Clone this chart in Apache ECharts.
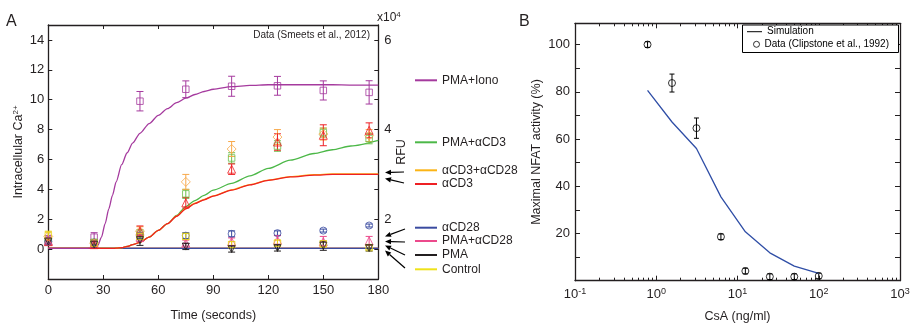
<!DOCTYPE html>
<html><head><meta charset="utf-8">
<script src="https://cdn.jsdelivr.net/npm/echarts@6/dist/echarts.min.js"></script>
<style>html,body{margin:0;padding:0;background:#fff}#c{width:910px;height:323px}</style>
</head><body><div id="c"></div>
<script>
// ================= Panel A data =================
const timeSim = [0, 10, 20, 25, 27, 29, 31, 33, 35, 37, 40, 43, 46, 50, 55, 60, 65, 70, 75, 80, 85, 90, 100, 110, 120, 132, 145, 155, 165, 180];
const simPMAIono = [0.05, 0.05, 0.05, 0.08, 0.25, 0.8, 1.7, 2.7, 3.6, 4.5, 5.65, 6.45, 7.1, 7.75, 8.4, 8.95, 9.4, 9.8, 10.1, 10.35, 10.55, 10.7, 10.87, 10.96, 11.0, 11.0, 11.0, 11.0, 10.98, 10.97];
const simPMAaCD3 = [0.05, 0.05, 0.05, 0.05, 0.05, 0.05, 0.05, 0.05, 0.05, 0.06, 0.1, 0.18, 0.3, 0.45, 0.8, 1.25, 1.7, 2.25, 2.85, 3.25, 3.6, 3.95, 4.4, 4.9, 5.4, 5.95, 6.4, 6.65, 6.9, 7.28];
const simaCD3aCD28 = [0.05, 0.05, 0.05, 0.05, 0.05, 0.05, 0.05, 0.05, 0.05, 0.06, 0.1, 0.18, 0.3, 0.45, 0.8, 1.25, 1.7, 2.22, 2.72, 3.07, 3.32, 3.57, 3.97, 4.32, 4.62, 4.85, 4.98, 5.03, 5.03, 5.03];
const simaCD3 = [0.05, 0.05, 0.05, 0.05, 0.05, 0.05, 0.05, 0.05, 0.05, 0.06, 0.1, 0.18, 0.3, 0.45, 0.8, 1.25, 1.7, 2.2, 2.7, 3.05, 3.3, 3.55, 3.95, 4.3, 4.6, 4.83, 4.95, 5.0, 5.0, 5.0];
const timeFlat = [0, 180];
const simaCD28 = [0.05, 0.05];
const simPMAaCD28 = [0.05, 0.05];
const simPMA = [0.05, 0.05];
const simControl = [0.05, 0.05];

const timeData = [0, 25, 50, 75, 100, 125, 150, 175];
const dataPMAIono = [0.6, 0.8, 9.9, 10.7, 10.9, 10.93, 10.62, 10.49];
const errPMAIono = [0.3, 0.3, 0.65, 0.56, 0.67, 0.63, 0.64, 0.78];
const dataPMAaCD3 = [0.5, 0.45, 1.0, 3.7, 6.1, 6.9, 7.8, 7.4];
const errPMAaCD3 = [0.25, 0.2, 0.3, 0.3, 0.35, 0.35, 0.3, 0.35];
const dataaCD3aCD28 = [0.85, 0.4, 1.2, 4.5, 6.7, 7.5, 7.7, 7.6];
const erraCD3aCD28 = [0.3, 0.2, 0.3, 0.5, 0.5, 0.5, 0.4, 0.4];
const dataaCD3 = [0.5, 0.3, 1.2, 3.1, 5.35, 7.17, 7.62, 7.95];
const erraCD3 = [0.25, 0.2, 0.35, 0.35, 0.35, 0.55, 0.7, 0.5];
const dataaCD28 = [0.5, 0.45, 0.9, 0.9, 1.02, 1.07, 1.24, 1.58];
const erraCD28 = [0.2, 0.15, 0.2, 0.2, 0.2, 0.15, 0.1, 0.1];
const dataPMAaCD28 = [0.55, 0.4, 0.8, 0.4, 0.5, 0.6, 0.5, 0.55];
const errPMAaCD28 = [0.2, 0.2, 0.3, 0.2, 0.25, 0.3, 0.35, 0.3];
const dataPMA = [0.5, 0.3, 0.6, 0.17, 0.0, 0.07, 0.22, 0.07];
const errPMA = [0.2, 0.2, 0.35, 0.2, 0.2, 0.2, 0.3, 0.2];
const dataControl = [0.9, 0.4, 0.85, 0.85, 0.3, 0.4, 0.35, 0.1];
const errControl = [0.3, 0.2, 0.2, 0.2, 0.2, 0.2, 0.2, 0.15];

const legendNamesA = ['PMA+Iono', 'PMA+\u03b1CD3', '\u03b1CD3+\u03b1CD28', '\u03b1CD3', '\u03b1CD28', 'PMA+\u03b1CD28', 'PMA', 'Control'];

// ================= Panel B data =================
const csaDose = [0.78125, 1.5625, 3.125, 6.25, 12.5, 25, 50, 100];
const simNFAT = [80.6, 67.2, 56.0, 35.5, 20.7, 11.8, 6.2, 3.1];
const dataNFAT = [100, 83.7, 64.6, 18.6, 4.1, 1.7, 1.7, 2.0];
const errNFAT = [1.2, 3.8, 4.3, 1.2, 1.2, 1.2, 1.2, 1.2];

// ================= Build =================
const FONT = '"Liberation Sans", Arial, sans-serif';
const AX = '#231f20';
const C = {
  iono: '#a53a9e', pmacd3: '#4cb848', cd3cd28: '#fbb416', cd3cd28m: '#f8a94a',
  cd3: '#ee2024', cd28: '#3a4ba0', pmacd28: '#ec4a8c', pma: '#231f20', ctrl: '#efe21a'
};
const pairs = (xs, ys) => xs.map((x, i) => [x, ys[i]]);

function lineS(name, xs, ys, color, xi, yi, w) {
  return { type: 'line', name, xAxisIndex: xi, yAxisIndex: yi, data: pairs(xs, ys),
    showSymbol: false, smooth: 0.25, smoothMonotone: 'x', lineStyle: { color, width: w || 1.3 }, itemStyle: { color },
    silent: true, z: 2 };
}
function scatterS(name, xs, ys, color, symbol, size, rot, xi, yi) {
  return { type: 'scatter', name, xAxisIndex: xi, yAxisIndex: yi, data: pairs(xs, ys),
    symbol, symbolSize: size, symbolRotate: rot || 0,
    itemStyle: { color: 'rgba(0,0,0,0)', borderColor: color, borderWidth: 1 }, silent: true, z: 4 };
}
function errS(name, xs, ys, es, color, capW, xi, yi) {
  return { type: 'custom', name, xAxisIndex: xi, yAxisIndex: yi,
    data: xs.map((x, i) => [x, ys[i], es[i]]), encode: { x: 0, y: 1 }, silent: true, z: 3,
    renderItem(params, api) {
      const x = api.value(0), y = api.value(1), e = api.value(2);
      const t = api.coord([x, y + e]), b = api.coord([x, y - e]);
      const st = { stroke: color, lineWidth: 1 };
      return { type: 'group', children: [
        { type: 'line', shape: { x1: t[0], y1: t[1], x2: b[0], y2: b[1] }, style: st },
        { type: 'line', shape: { x1: t[0] - capW, y1: t[1], x2: t[0] + capW, y2: t[1] }, style: st },
        { type: 'line', shape: { x1: b[0] - capW, y1: b[1], x2: b[0] + capW, y2: b[1] }, style: st }
      ] };
    } };
}

const series = [
  lineS(legendNamesA[7], timeFlat, simControl, C.ctrl, 0, 0),
  lineS(legendNamesA[6], timeFlat, simPMA, C.pma, 0, 0),
  lineS(legendNamesA[5], timeFlat, simPMAaCD28, C.pmacd28, 0, 0),
  lineS(legendNamesA[4], timeFlat, simaCD28, C.cd28, 0, 0),
  lineS(legendNamesA[1], timeSim, simPMAaCD3, C.pmacd3, 0, 0),
  lineS(legendNamesA[2], timeSim, simaCD3aCD28, C.cd3cd28, 0, 0),
  lineS(legendNamesA[3], timeSim, simaCD3, C.cd3, 0, 0),
  lineS(legendNamesA[0], timeSim, simPMAIono, C.iono, 0, 0),
];
const dataSets = [
  ['PMA+Iono', dataPMAIono, errPMAIono, C.iono, 'rect', 6.5, 0],
  ['PMA+aCD3', dataPMAaCD3, errPMAaCD3, '#6cbf4a', 'rect', 6.5, 0],
  ['aCD3+aCD28', dataaCD3aCD28, erraCD3aCD28, C.cd3cd28m, 'diamond', 9, 0],
  ['aCD3', dataaCD3, erraCD3, C.cd3, 'triangle', 8, 0],
  ['aCD28', dataaCD28, erraCD28, C.cd28, 'circle', 7, 0],
  ['PMA+aCD28', dataPMAaCD28, errPMAaCD28, C.pmacd28, 'triangle', 8, 0],
  ['Control', dataControl, errControl, '#e8d81a', 'rect', 6.5, 0],
  ['PMA', dataPMA, errPMA, C.pma, 'triangle', 7, 180],
];
dataSets.forEach(d => {
  series.push(errS(d[0] + ' err', timeData, d[1], d[2], d[3], 3.5, 0, 0));
  series.push(scatterS(d[0] + ' data', timeData, d[1], d[3], d[4], d[5], d[6], 0, 0));
});
series.push({ type: 'line', name: 'Simulation', xAxisIndex: 2, yAxisIndex: 2, data: pairs(csaDose, simNFAT),
  showSymbol: false, lineStyle: { color: '#2f4ea6', width: 1.3 }, itemStyle: { color: '#000' }, silent: true });
series.push(errS('NFAT err', csaDose, dataNFAT, errNFAT, '#000', 2.5, 2, 2));
series.push(scatterS('Data (Clipstone et al., 1992)', csaDose, dataNFAT, '#000', 'circle', 7, 0, 2, 2));

// Legends
const legY = [80.3, 142.3, 170.3, 184, 227.7, 241, 255, 269.3];
const legC = [C.iono, C.pmacd3, C.cd3cd28, C.cd3, C.cd28, C.pmacd28, C.pma, C.ctrl];
const legends = legendNamesA.map((n, i) => ({
  data: [{ name: n, itemStyle: { color: legC[i] } }], left: 415, top: legY[i] - 7,
  icon: 'rect', itemWidth: 22, itemHeight: 2, padding: 0, selectedMode: false,
  textStyle: { fontSize: 12, color: '#231f20', fontFamily: FONT, lineHeight: 14 }
}));
legends.push({ data: [{ name: 'Simulation', itemStyle: { color: '#000' } }], left: 747, top: 31.7 - 6,
  icon: 'rect', itemWidth: 15, itemHeight: 1, padding: 0, selectedMode: false, z: 6,
  textStyle: { fontSize: 10, color: '#000', fontFamily: FONT, lineHeight: 12 } });
legends.push({ data: [{ name: 'Data (Clipstone et al., 1992)', icon: 'circle',
  itemStyle: { color: '#fff', borderColor: '#000', borderWidth: 1 } }], left: 753, top: 44.3 - 6,
  itemWidth: 6, itemHeight: 6, padding: 0, selectedMode: false, z: 6,
  textStyle: { fontSize: 10, color: '#000', fontFamily: FONT, lineHeight: 12 } });

// Arrows (annotation)
const arrows = [
  [404, 172, 385, 172.5], [404, 183, 385, 178.5],
  [405, 229, 385, 236.5], [405, 242, 385, 241.5], [405, 255, 385, 245.5], [405, 268, 385, 250.5]
];
const graphics = [];
arrows.forEach(a => {
  const [x1, y1, x2, y2] = a;
  const dx = x2 - x1, dy = y2 - y1, L = Math.hypot(dx, dy), ux = dx / L, uy = dy / L;
  const hl = 6, hw = 2.6;
  const bx = x2 - ux * hl, by = y2 - uy * hl;
  graphics.push({ type: 'line', shape: { x1, y1, x2: bx, y2: by }, style: { stroke: '#000', lineWidth: 1.2 }, z: 10 });
  graphics.push({ type: 'polygon', shape: { points: [[x2, y2], [bx - uy * hw, by + ux * hw], [bx + uy * hw, by - ux * hw]] },
    style: { fill: '#000' }, z: 10 });
});
graphics.push({ type: 'text', x: 6, y: 14, style: { text: 'A', fontSize: 16, fontFamily: FONT, fill: '#231f20' } });
graphics.push({ type: 'text', x: 519, y: 14, style: { text: 'B', fontSize: 16, fontFamily: FONT, fill: '#231f20' } });
graphics.push({ type: 'text', x: 370, y: 35, style: { text: 'Data (Smeets et al., 2012)', fontSize: 10, fontFamily: FONT,
  fill: '#231f20', align: 'right', verticalAlign: 'middle' }, z: 10 });
graphics.push({ type: 'text', x: 377, y: 18, style: { text: 'x10{s|4}', fontSize: 12, fontFamily: FONT, fill: '#231f20',
  verticalAlign: 'middle', rich: { s: { fontSize: 8, verticalAlign: 'top', fontFamily: FONT, fill: '#231f20', padding: [0, 0, 6, 0] } } } });
graphics.push({ type: 'rect', shape: { x: 742.5, y: 25, width: 156, height: 27.5 },
  style: { fill: '#fff', stroke: '#000', lineWidth: 1 }, z: 5 });

const tickFont = { fontSize: 13, color: '#231f20', fontFamily: FONT };
const axLine = { show: true, onZero: false, lineStyle: { color: AX, width: 1.3 } };
const option = {
  animation: false,
  backgroundColor: '#fff',
  grid: [
    { left: 48.3, right: 531.7, top: 25, bottom: 44, outerBoundsMode: 'none', containLabel: false },
    { left: 575, right: 10, top: 23.3, bottom: 42.3, outerBoundsMode: 'none', containLabel: false }
  ],
  xAxis: [
    { type: 'value', gridIndex: 0, min: 0, max: 180, interval: 30, position: 'bottom',
      axisLine: axLine, axisTick: { inside: true, length: 4, lineStyle: { color: AX } },
      axisLabel: Object.assign({ margin: 5 }, tickFont), splitLine: { show: false },
      name: 'Time (seconds)', nameLocation: 'middle', nameGap: 30,
      nameTextStyle: { fontSize: 12.5, color: '#231f20', fontFamily: FONT } },
    { type: 'value', gridIndex: 0, min: 0, max: 180, interval: 30, position: 'top',
      axisLine: axLine, axisTick: { inside: true, length: 4, lineStyle: { color: AX } },
      axisLabel: { show: false }, splitLine: { show: false } },
    { type: 'log', logBase: 10, gridIndex: 1, min: 0.1, max: 1000, position: 'bottom',
      axisLine: axLine, axisTick: { inside: true, length: 5, lineStyle: { color: AX } },
      minorTick: { show: true, splitNumber: 9, length: 3, lineStyle: { color: AX } },
      axisLabel: Object.assign({ margin: 6, formatter: v => '10{s|' + Math.round(Math.log10(v)) + '}',
        rich: { s: { fontSize: 9, verticalAlign: 'top', fontFamily: FONT, color: '#231f20', padding: [0, 0, 7, 0] } } }, tickFont),
      splitLine: { show: false }, minorSplitLine: { show: false },
      name: 'CsA (ng/ml)', nameLocation: 'middle', nameGap: 29,
      nameTextStyle: { fontSize: 12.5, color: '#231f20', fontFamily: FONT } },
    { type: 'log', logBase: 10, gridIndex: 1, min: 0.1, max: 1000, position: 'top',
      axisLine: axLine, axisTick: { inside: true, length: 5, lineStyle: { color: AX } },
      minorTick: { show: true, splitNumber: 9, length: 3, lineStyle: { color: AX } },
      axisLabel: { show: false }, splitLine: { show: false } }
  ],
  yAxis: [
    { type: 'value', gridIndex: 0, min: -2, max: 15, interval: 2, position: 'left',
      axisLine: axLine, axisTick: { inside: true, length: 4, lineStyle: { color: AX } },
      axisLabel: Object.assign({ margin: 4, formatter: v => (v >= 0 && v % 2 === 0) ? String(v) : '' }, tickFont),
      splitLine: { show: false },
      name: 'Intracellular Ca{s|2+}', nameLocation: 'middle', nameGap: 23, nameRotate: 90,
      nameTextStyle: { fontSize: 12.5, color: '#231f20', fontFamily: FONT,
        rich: { s: { fontSize: 8, verticalAlign: 'top', fontFamily: FONT, color: '#231f20', padding: [0, 0, 6, 0] } } } },
    { type: 'value', gridIndex: 0, min: 2 / 3, max: 19 / 3, interval: 2 / 3, position: 'right',
      axisLine: axLine, axisTick: { inside: true, length: 4, lineStyle: { color: AX } },
      axisLabel: Object.assign({ margin: 6, formatter: v => {
        const r = Math.round(v); return (Math.abs(v - r) < 1e-6 && r % 2 === 0) ? String(r) : ''; } }, tickFont),
      splitLine: { show: false },
      name: 'RFU', nameLocation: 'middle', nameGap: 16, nameRotate: 90,
      nameTextStyle: { fontSize: 12.5, color: '#231f20', fontFamily: FONT } },
    { type: 'value', gridIndex: 1, min: 0, max: 109, interval: 10, position: 'left',
      axisLine: axLine, axisTick: { inside: true, length: 5, lineStyle: { color: AX } },
      axisLabel: Object.assign({ margin: 5, formatter: v => (v > 0 && v <= 100 && v % 20 === 0) ? String(v) : '' }, tickFont),
      splitLine: { show: false },
      name: 'Maximal NFAT activity (%)', nameLocation: 'middle', nameGap: 32, nameRotate: 90,
      nameTextStyle: { fontSize: 12.5, color: '#231f20', fontFamily: FONT } },
    { type: 'value', gridIndex: 1, min: 0, max: 109, interval: 10, position: 'right',
      axisLine: axLine, axisTick: { inside: true, length: 5, lineStyle: { color: AX } },
      axisLabel: { show: false }, splitLine: { show: false } }
  ],
  legend: legends,
  graphic: graphics,
  series
};
const chart = echarts.init(document.getElementById('c'));
chart.setOption(option);
</script></body></html>
